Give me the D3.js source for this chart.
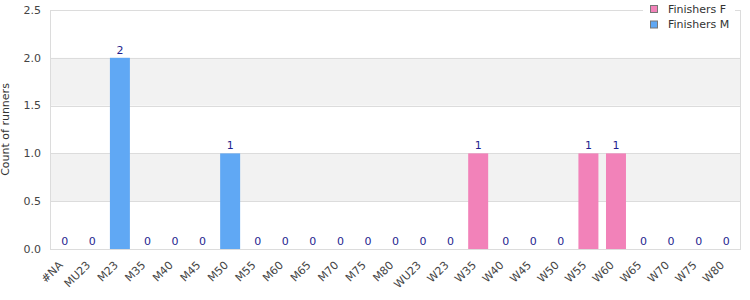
<!DOCTYPE html>
<html>
<head>
<meta charset="utf-8">
<script src="https://cdn.jsdelivr.net/npm/d3@7"></script>
<style>
  body { margin: 0; background: #fff; }
  svg { display: block; font-family: "DejaVu Sans", Verdana, sans-serif; }
</style>
</head>
<body>
<svg id="chart" width="750" height="300"></svg>
<script>
const categories = ["#NA", "MU23", "M23", "M35", "M40", "M45", "M50", "M55", "M60", "M65", "M70", "M75", "M80",
    "WU23", "W23", "W35", "W40", "W45", "W50", "W55", "W60", "W65", "W70", "W75", "W80"];
const finishersF = [0, 0, 0, 0, 0, 0, 0, 0, 0, 0, 0, 0, 0, 0, 0, 1, 0, 0, 0, 1, 1, 0, 0, 0, 0];
const finishersM = [0, 0, 2, 0, 0, 0, 1, 0, 0, 0, 0, 0, 0, 0, 0, 0, 0, 0, 0, 0, 0, 0, 0, 0, 0];
const seriesNames = ["Finishers F", "Finishers M"];
const seriesColors = ["#f282b9", "#60a8f4"];
const yTicks = [0, 0.5, 1.0, 1.5, 2.0, 2.5];

const margin = { top: 10, right: 10, bottom: 51, left: 50 };
const width = 750 - margin.left - margin.right;
const height = 300 - margin.top - margin.bottom;

const svg = d3.select("#chart");
const g = svg.append("g").attr("transform", `translate(${margin.left},${margin.top})`);

const rows = categories.map((c, i) => ({ cat: c, F: finishersF[i], M: finishersM[i] }));
const stacked = d3.stack().keys(["F", "M"])(rows);

const x = d3.scaleBand().domain(categories).range([1, width]).paddingInner(0.275).paddingOuter(0.1375);
const y = d3.scaleLinear().domain([0, 2.5]).range([height, 0]);

// alternating bands
const bands = d3.pairs(yTicks).filter((p, i) => i % 2 === 1);
g.selectAll(".band").data(bands).join("rect")
    .attr("x", 0)
    .attr("width", width)
    .attr("y", d => y(d[1]))
    .attr("height", d => y(d[0]) - y(d[1]))
    .attr("fill", "#f2f2f2");

// grid lines
g.selectAll(".grid").data(yTicks).join("line")
    .attr("x1", 0).attr("x2", width)
    .attr("y1", d => Math.round(y(d)) + 0.5).attr("y2", d => Math.round(y(d)) + 0.5)
    .attr("stroke", "#dcdcdc");

// frame
g.append("rect")
    .attr("x", 0.5).attr("y", 0.5)
    .attr("width", width).attr("height", height)
    .attr("fill", "none").attr("stroke", "#dcdcdc");

// bars
g.selectAll(".series").data(stacked).join("g")
    .attr("fill", (d, i) => seriesColors[i])
    .selectAll("rect").data(d => d).join("rect")
    .attr("x", d => x(d.data.cat))
    .attr("width", x.bandwidth())
    .attr("y", d => y(d[1]))
    .attr("height", d => y(d[0]) - y(d[1]));

// value labels (total)
g.selectAll(".val").data(rows).join("text")
    .attr("x", d => x(d.cat) + x.bandwidth() / 2)
    .attr("y", d => y(d.F + d.M) - 4)
    .attr("text-anchor", "middle")
    .attr("font-size", 11)
    .attr("fill", "#1f1f8f")
    .text(d => d.F + d.M);

// y axis labels
g.selectAll(".ytick").data(yTicks).join("text")
    .attr("x", -9)
    .attr("y", d => y(d))
    .attr("dy", "0.35em")
    .attr("text-anchor", "end")
    .attr("font-size", 11)
    .attr("fill", "#444")
    .text(d => d3.format(".1f")(d));

// x axis labels
g.selectAll(".xtick").data(categories).join("text")
    .attr("transform", d => `translate(${x(d) + x.bandwidth() / 2 - 4},${height + 14}) rotate(-45)`)
    .attr("text-anchor", "end")
    .attr("dy", "0.35em")
    .attr("font-size", 11)
    .attr("fill", "#444")
    .text(d => d);

// y axis title
svg.append("text")
    .attr("transform", `translate(9,${margin.top + height / 2}) rotate(-90)`)
    .attr("text-anchor", "middle")
    .attr("font-size", 11)
    .attr("fill", "#333")
    .text("Count of runners");

// legend
const legend = svg.append("g").attr("transform", "translate(643,0)");
legend.append("rect").attr("x", 0).attr("y", 0).attr("width", 92).attr("height", 32).attr("fill", "#fff");
seriesNames.forEach((name, i) => {
    legend.append("rect")
        .attr("x", 7.5).attr("y", 5.5 + i * 15.5)
        .attr("width", 7).attr("height", 7)
        .attr("fill", seriesColors[i])
        .attr("stroke", "#777");
    legend.append("text")
        .attr("x", 25).attr("y", 9 + i * 15.5)
        .attr("dy", "0.35em")
        .attr("font-size", 11)
        .attr("fill", "#333")
        .text(name);
});
</script>
</body>
</html>
